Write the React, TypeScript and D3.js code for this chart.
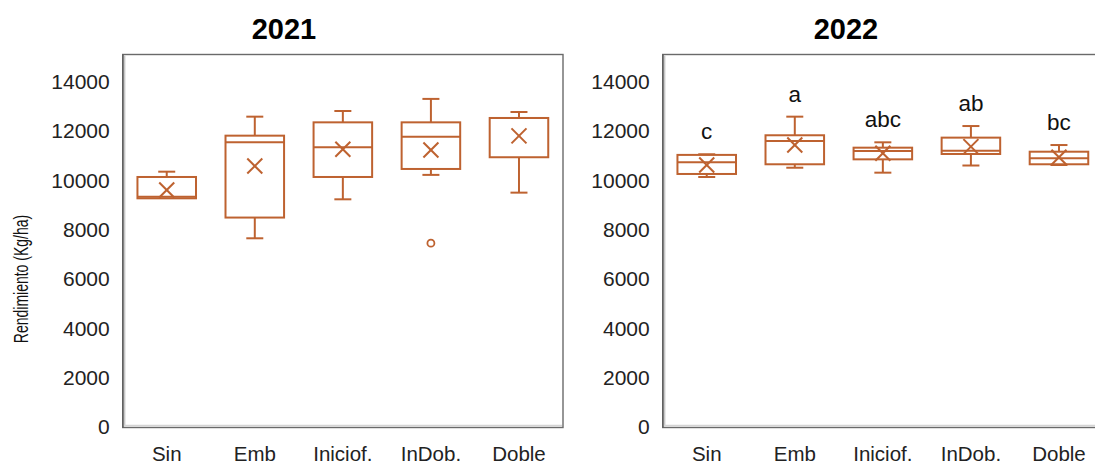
import React from "react";
import * as d3 from "d3";

const categories = ["Sin", "Emb", "Iniciof.", "InDob.", "Doble"];
const years = ["2021", "2022"];
const yTicks = [0, 2000, 4000, 6000, 8000, 10000, 12000, 14000];

// 2021
const min2021 = [9270, 7650, 9230, 10220, 9500];
const q1_2021 = [9270, 8490, 10135, 10460, 10935];
const med2021 = [9330, 11540, 11340, 11770, 12527];
const q3_2021 = [10135, 11810, 12350, 12350, 12527];
const max2021 = [10350, 12580, 12810, 13300, 12770];
const mean2021 = [9610, 10580, 11260, 11230, 11800];
const outliers2021 = [[], [], [], [7450], []];

// 2022
const min2022 = [10135, 10510, 10310, 10600, 10620];
const q1_2022 = [10257, 10650, 10850, 11067, 10650];
const med2022 = [10730, 11594, 11190, 11200, 10890];
const q3_2022 = [11030, 11826, 11323, 11730, 11160];
const max2022 = [11055, 12580, 11540, 12200, 11430];
const mean2022 = [10620, 11430, 11095, 11365, 10934];
const outliers2022 = [[], [], [], [], []];
const letters2022 = ["c", "a", "abc", "ab", "bc"];
const letters2021: string[] = ["", "", "", "", ""];

const W = 1095;
const H = 464;
const COLOR = "#BE6230";
const FONT = "'Liberation Sans', Arial, sans-serif";

const panels = [
  { year: years[0], left: 122.7, titleX: 284, min: min2021, q1: q1_2021, med: med2021, q3: q3_2021, max: max2021, mean: mean2021, out: outliers2021, letters: letters2021, showYTitle: true },
  { year: years[1], left: 662.7, titleX: 846, min: min2022, q1: q1_2022, med: med2022, q3: q3_2022, max: max2022, mean: mean2022, out: outliers2022, letters: letters2022, showYTitle: false },
];
const frameW = 440.3;
const frameTop = 54.5;
const frameBottom = 427.5;

const y = d3.scaleLinear().domain([0, 15100]).range([427, 54.5]);

function Panel({ p }: { p: (typeof panels)[number] }) {
  const x = d3.scaleBand<string>().domain(categories).range([p.left, p.left + frameW]).padding(0);
  const bw = x.bandwidth() * 0.665;
  const capW = 17;
  const xs = 7.5;
  return (
    <g>
      {/* frame */}
      <rect x={p.left} y={frameTop} width={frameW} height={frameBottom - frameTop} fill="#fff" stroke="#6a6a6a" strokeWidth={1.4} />
      <line x1={p.left + 1.9} x2={p.left + 1.9} y1={frameTop + 1} y2={frameBottom - 1} stroke="#c8c8c8" strokeWidth={1.6} />
      <line x1={p.left + 1} x2={p.left + frameW - 1} y1={frameBottom - 1.9} y2={frameBottom - 1.9} stroke="#d4d4d4" strokeWidth={1.6} />
      <line x1={p.left + 0.4} x2={p.left + 0.4} y1={frameTop} y2={frameBottom} stroke="#555" strokeWidth={1} />
      {/* title */}
      <text x={p.titleX} y={38.5} textAnchor="middle" fontFamily={FONT} fontWeight="bold" fontSize={29} fill="#000">
        {p.year}
      </text>
      {/* y ticks */}
      {yTicks.map((t) => (
        <text key={t} x={p.left - 13} y={y(t)} dy="0.35em" textAnchor="end" fontFamily={FONT} fontSize={21} fill="#222">
          {t}
        </text>
      ))}
      {/* category labels */}
      {categories.map((c) => (
        <text key={c} x={x(c)! + x.bandwidth() / 2} y={461} textAnchor="middle" fontFamily={FONT} fontSize={20.5} fill="#222">
          {c}
        </text>
      ))}
      {/* boxes */}
      {categories.map((c, i) => {
        const cx = x(c)! + x.bandwidth() / 2;
        const yq1 = y(p.q1[i]);
        const yq3 = y(p.q3[i]);
        const ym = y(p.mean[i]);
        return (
          <g key={c} stroke={COLOR} strokeWidth={2} fill="none">
            {p.max[i] > p.q3[i] && <line x1={cx} x2={cx} y1={y(p.max[i])} y2={yq3} />}
            {p.max[i] > p.q3[i] && <line x1={cx - capW / 2} x2={cx + capW / 2} y1={y(p.max[i])} y2={y(p.max[i])} />}
            {p.min[i] < p.q1[i] && <line x1={cx} x2={cx} y1={y(p.min[i])} y2={yq1} />}
            {p.min[i] < p.q1[i] && <line x1={cx - capW / 2} x2={cx + capW / 2} y1={y(p.min[i])} y2={y(p.min[i])} />}
            <rect x={cx - bw / 2} y={yq3} width={bw} height={yq1 - yq3} />
            <line x1={cx - bw / 2} x2={cx + bw / 2} y1={y(p.med[i])} y2={y(p.med[i])} />
            <line x1={cx - xs} x2={cx + xs} y1={ym - xs} y2={ym + xs} />
            <line x1={cx - xs} x2={cx + xs} y1={ym + xs} y2={ym - xs} />
            {p.out[i].map((o, k) => (
              <circle key={k} cx={cx} cy={y(o)} r={3.5} strokeWidth={1.8} />
            ))}
            {p.letters[i] && (
              <text x={cx} y={y(p.max[i]) - 15} textAnchor="middle" fontFamily={FONT} fontSize={22.5} fill="#111" stroke="none">
                {p.letters[i]}
              </text>
            )}
          </g>
        );
      })}
      {p.showYTitle && (
        <text transform={`translate(28,279) rotate(-90) scale(1,1.4)`} textAnchor="middle" fontFamily={FONT} fontSize={14} fill="#111">
          Rendimiento (Kg/ha)
        </text>
      )}
    </g>
  );
}

export default function App() {
  return (
    <div style={{ position: "absolute", left: 0, top: 0 }}>
      <svg width={W} height={H} viewBox={`0 0 ${W} ${H}`} style={{ display: "block", background: "#fff" }}>
        {panels.map((p) => (
          <Panel key={p.year} p={p} />
        ))}
      </svg>
    </div>
  );
}
